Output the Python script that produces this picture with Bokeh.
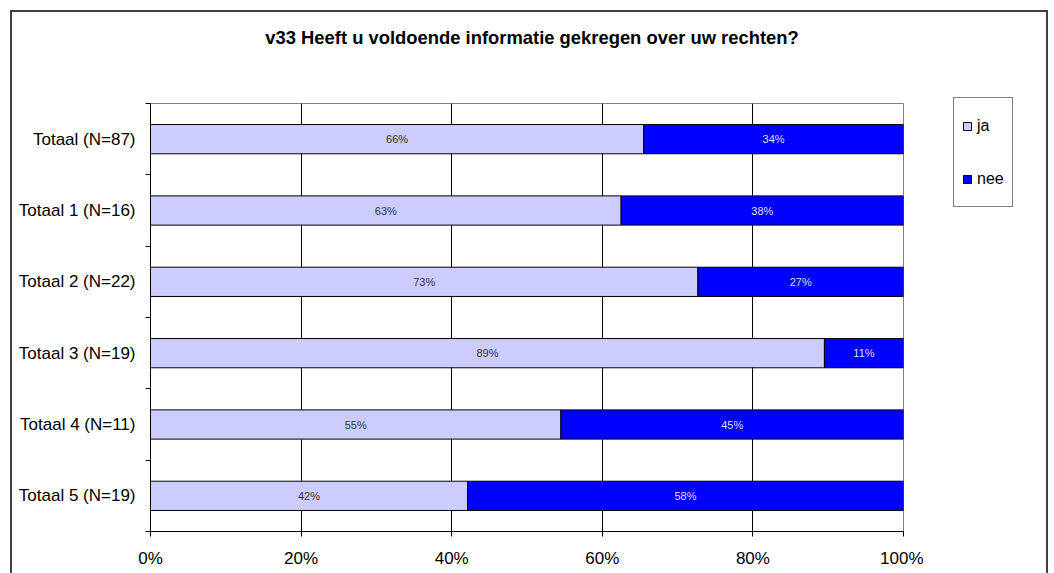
from bokeh.plotting import figure
from bokeh.models import (ColumnDataSource, Range1d, FixedTicker, Legend,
                          LegendItem, Div)
from bokeh.layouts import column, row
from bokeh.core.properties import value
from bokeh.embed import file_html
from bokeh.resources import INLINE

title_text = "v33 Heeft u voldoende informatie gekregen over uw rechten?"
categories = ["Totaal (N=87)", "Totaal 1 (N=16)", "Totaal 2 (N=22)",
              "Totaal 3 (N=19)", "Totaal 4 (N=11)", "Totaal 5 (N=19)"]
ja = [65.5, 62.5, 72.7, 89.5, 54.5, 42.1]
nee = [34.5, 37.5, 27.3, 10.5, 45.5, 57.9]
ja_labels = ["66%", "63%", "73%", "89%", "55%", "42%"]
nee_labels = ["34%", "38%", "27%", "11%", "45%", "58%"]
x_ticks = [0, 20, 40, 60, 80, 100]
x_tick_labels = ["0%", "20%", "40%", "60%", "80%", "100%"]
series = ["ja", "nee"]
colors = ["#CCCCFF", "#0000FF"]

FONT = "Liberation Sans"
n = len(categories)
ypos = [n - 0.5 - i for i in range(n)]

src = ColumnDataSource(dict(
    y=ypos, ja=ja, nee=nee,
    ja_mid=[a / 2 for a in ja],
    nee_mid=[a + b / 2 for a, b in zip(ja, nee)],
    ja_lab=ja_labels, nee_lab=nee_labels,
))

title_div = Div(text=title_text, width=911, height=60, margin=0,
                styles={"font-family": FONT, "font-size": "18.4px",
                        "font-weight": "bold", "text-align": "center",
                        "line-height": "52px", "color": "black",
                        "text-indent": "129px", "white-space": "nowrap"})

p = figure(width=911, height=501, output_backend="svg", toolbar_location=None,
           x_range=Range1d(0, 100), y_range=Range1d(0, n),
           min_border_left=138, min_border_right=20,
           min_border_top=31, min_border_bottom=42, margin=0)

p.outline_line_color = "#808080"
p.outline_line_width = 1
p.background_fill_color = "white"
p.border_fill_color = "white"

r = p.hbar_stack(series, y="y", height=0.41, source=src,
                 fill_color=colors, line_color="black", line_width=1)

p.text(x="ja_mid", y="y", text="ja_lab", source=src, text_align="center",
       text_baseline="middle", text_font=value(FONT), text_font_size="11px",
       text_color="#333333")
p.text(x="nee_mid", y="y", text="nee_lab", source=src, text_align="center",
       text_baseline="middle", text_font=value(FONT), text_font_size="11px",
       text_color="#DDDDFF")

# x axis
p.xaxis.ticker = FixedTicker(ticks=x_ticks)
p.xaxis.major_label_overrides = {t: l for t, l in zip(x_ticks, x_tick_labels)}
p.xaxis.major_tick_in = 0
p.xaxis.major_tick_out = 5
p.xaxis.minor_tick_line_color = None
p.xaxis.major_label_standoff = 12
p.xaxis.major_label_text_font = FONT
p.xaxis.major_label_text_font_size = "17px"
p.xaxis.major_label_text_color = "black"
p.xaxis.axis_line_color = "black"
p.xaxis.major_tick_line_color = "black"

# y axis
p.yaxis.ticker = FixedTicker(ticks=ypos, minor_ticks=list(range(n + 1)))
p.yaxis.major_label_overrides = {y: c for y, c in zip(ypos, categories)}
p.yaxis.major_tick_line_color = None
p.yaxis.major_tick_in = 0
p.yaxis.major_tick_out = 0
p.yaxis.minor_tick_in = 0
p.yaxis.minor_tick_out = 5
p.yaxis.minor_tick_line_color = "black"
p.yaxis.major_label_standoff = 10
p.yaxis.major_label_text_font = FONT
p.yaxis.major_label_text_font_size = "17px"
p.yaxis.major_label_text_color = "black"
p.yaxis.axis_line_color = "black"

p.xgrid.grid_line_color = "black"
p.xgrid.grid_line_width = 1
p.ygrid.grid_line_color = None

# legend panel (full height of the chart box)
lf = figure(width=123, height=561, output_backend="svg", toolbar_location=None,
            x_range=Range1d(0, 1), y_range=Range1d(0, 1),
            x_axis_location=None, y_axis_location=None,
            min_border=0, outline_line_color=None, margin=0)
lf.grid.visible = False
lf.background_fill_color = "white"
lf.border_fill_color = "white"
# legend proxies, placed outside the visible range
lrs = [lf.hbar(y=[-5], left=[-5], right=[-4], height=0.5, fill_color=c,
               line_color="black") for c in colors]
leg = Legend(items=[LegendItem(label=s, renderers=[rr]) for s, rr in zip(series, lrs)])
leg.location = (30, 366)
leg.orientation = "vertical"
leg.border_line_color = "black"
leg.border_line_width = 1
leg.background_fill_color = "white"
leg.background_fill_alpha = 1
leg.label_text_font = FONT
leg.label_text_font_size = "16px"
leg.label_text_color = "black"
leg.glyph_width = 10
leg.glyph_height = 10
leg.label_standoff = 5
leg.label_height = 39
leg.spacing = 14
leg.padding = 8
leg.margin = 0
leg.label_width = 20
lf.add_layout(leg, "center")

layout = row(column(title_div, p, spacing=0, margin=0), lf, spacing=0, margin=0)
layout.styles = {"border-top": "2px solid #404040", "border-left": "2px solid #404040",
                 "border-right": "2px solid #404040", "margin-left": "10px",
                 "margin-top": "10px"}

open("out.html", "w").write(file_html(layout, INLINE))
